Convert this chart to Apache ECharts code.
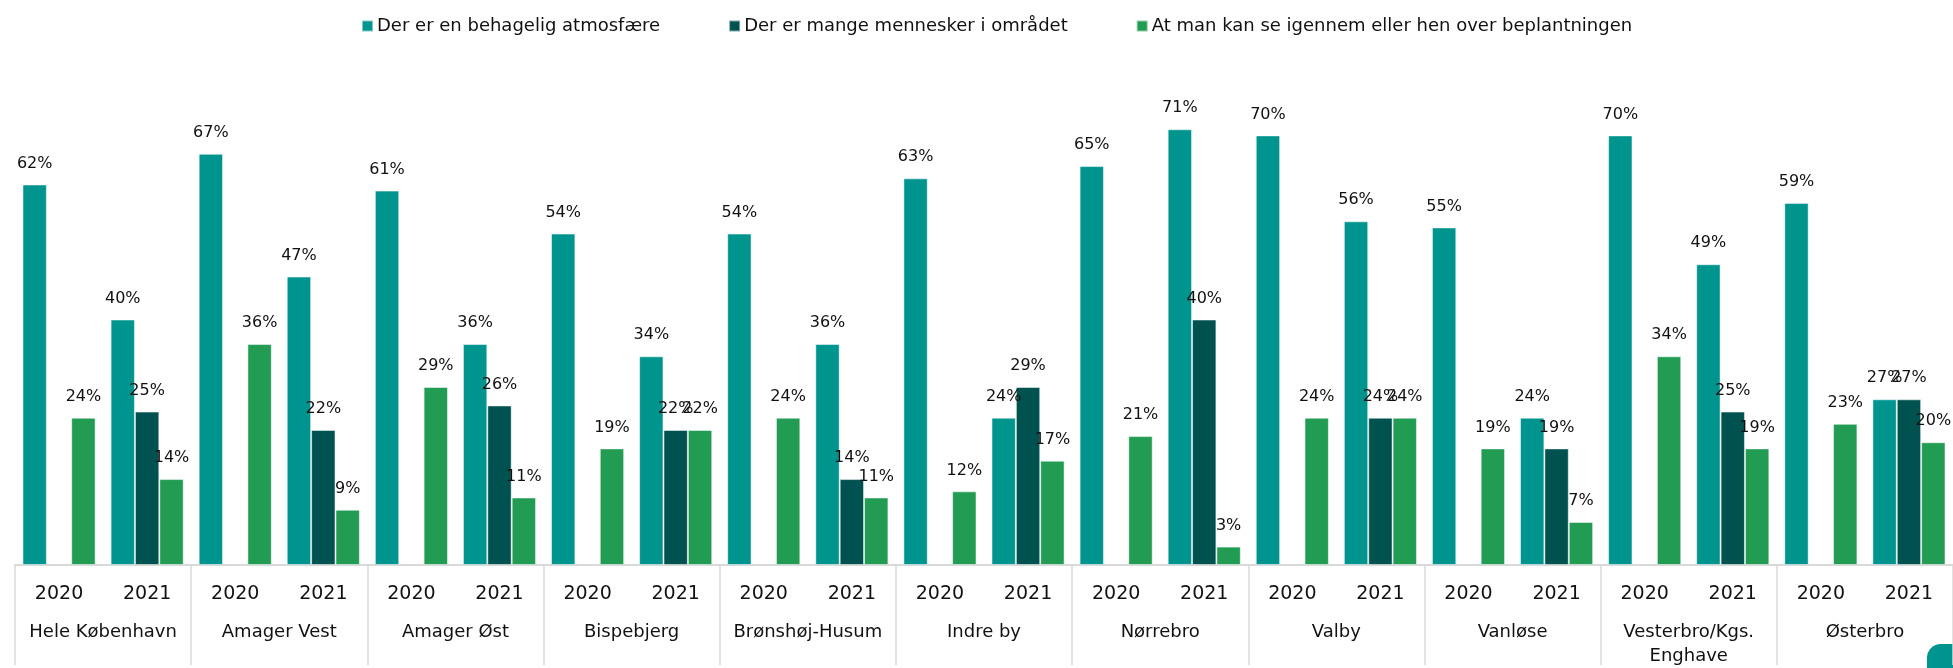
<!DOCTYPE html>
<html>
<head>
<meta charset="utf-8">
<script src="https://cdn.jsdelivr.net/npm/echarts@6/dist/echarts.min.js"></script>
<style>
  html, body { margin: 0; padding: 0; background: #fff; }
  #chart { width: 1953px; height: 668px; }
</style>
</head>
<body>
<div id="chart"></div>
<script>
const districts = ["Hele København", "Amager Vest", "Amager Øst", "Bispebjerg", "Brønshøj-Husum", "Indre by", "Nørrebro", "Valby", "Vanløse", "Vesterbro/Kgs.\nEnghave", "Østerbro"];
const years = ["2020", "2021"];
const seriesNames = ["Der er en behagelig atmosfære", "Der er mange mennesker i området", "At man kan se igennem eller hen over beplantningen"];

// values per district: [2020, 2021]
const atmosfaere = [[62, 40], [67, 47], [61, 36], [54, 34], [54, 36], [63, 24], [65, 71], [70, 56], [55, 24], [70, 49], [59, 27]];
const mennesker = [[null, 25], [null, 22], [null, 26], [null, 22], [null, 14], [null, 29], [null, 40], [null, 24], [null, 19], [null, 25], [null, 27]];
const beplantning = [[24, 14], [36, 9], [29, 11], [19, 22], [24, 11], [12, 17], [21, 3], [24, 24], [19, 7], [34, 19], [23, 20]];

const colors = ["#00948f", "#005250", "#229b53"];

const cats = [];
districts.forEach(d => years.forEach(y => cats.push(y)));
const flat = arr => arr.reduce((a, b) => a.concat(b), []);

const font = "'DejaVu Sans', sans-serif";

const chart = echarts.init(document.getElementById("chart"));

const option = {
  animation: false,
  textStyle: { fontFamily: font },
  legend: {
    top: 12,
    left: 356,
    itemWidth: 11,
    itemHeight: 11,
    itemGap: 68,
    icon: "rect",
    textStyle: { fontSize: 18, color: "#111", fontFamily: font, padding: [0, 0, 0, -1] },
    data: seriesNames
  },
  grid: { left: 15, width: 1946, top: 74, height: 496 },
  xAxis: [
    {
      type: "category",
      data: cats,
      axisLine: { lineStyle: { color: "#d9d9d9", width: 2 } },
      axisTick: { show: false },
      axisLabel: { interval: 0, margin: 20, fontSize: 19, color: "#111", fontFamily: font }
    },
    {
      type: "category",
      data: districts,
      position: "bottom",
      axisLine: { show: false },
      axisTick: { show: true, interval: 0, length: 100, lineStyle: { color: "#d9d9d9", width: 1.5 } },
      axisLabel: { interval: 0, margin: 55, fontSize: 18, lineHeight: 24, color: "#111", fontFamily: font }
    }
  ],
  yAxis: {
    type: "value",
    min: 0,
    max: 80,
    show: false,
    splitLine: { show: false }
  },
  series: [atmosfaere, mennesker, beplantning].map((vals, i) => ({
    name: seriesNames[i],
    type: "bar",
    data: flat(vals),
    barGap: "0%",
    barCategoryGap: "17%",
    itemStyle: { color: colors[i], borderColor: "rgba(255,255,255,0.5)", borderWidth: 1 },
    label: {
      show: true,
      position: "top",
      distance: 13,
      formatter: "{c}%",
      fontSize: 16,
      color: "#111",
      fontFamily: font
    }
  })),
  graphic: [
    {
      type: "rect",
      left: 1927,
      top: 644,
      shape: { width: 60, height: 60, r: 14 },
      style: { fill: "#00948f" }
    }
  ]
};

chart.setOption(option);
</script>
</body>
</html>
